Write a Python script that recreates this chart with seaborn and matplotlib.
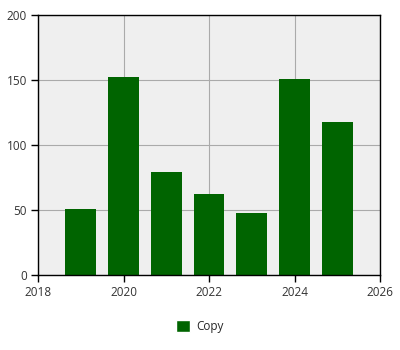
import matplotlib
matplotlib.use("Agg")
import matplotlib.pyplot as plt
import seaborn as sns
import pandas as pd
from matplotlib.patches import Patch

years = [2019, 2020, 2021, 2022, 2023, 2024, 2025]
values = [51, 152, 79, 62, 48, 151, 118]
series_name = "Copy"

sns.set_style("white")
plt.rcParams['font.family'] = ['Open Sans', 'DejaVu Sans']

df = pd.DataFrame({"year": years, "value": values})

fig = plt.figure(figsize=(4, 3.5), dpi=100)
ax = fig.add_axes([0.095, 0.214, 0.855, 0.743])
ax.set_facecolor("#efefef")
sns.barplot(data=df, x="year", y="value", native_scale=True, color="#006400",
            width=0.72, saturation=1, linewidth=0, edgecolor="none", ax=ax, zorder=2)
ax.set_xlim(2018, 2026)
ax.set_ylim(0, 200)
ax.set_xticks([2018, 2020, 2022, 2024, 2026])
ax.set_yticks([0, 50, 100, 150, 200])
ax.grid(True, color="#aaaaaa", linewidth=0.8, zorder=0)
ax.set_axisbelow(True)
for s in ax.spines.values():
    s.set_color("black")
    s.set_linewidth(1)
ax.tick_params(axis="both", length=5, width=1, color="black", labelsize=8.5, labelcolor="#333333", pad=3, direction="out")
ax.tick_params(left=True, bottom=True)
ax.set_xlabel("")
ax.set_ylabel("")
fig.legend(handles=[Patch(facecolor="#006400", label=series_name)], loc="center",
           bbox_to_anchor=(0.5, 0.068), frameon=False, fontsize=8.5,
           handlelength=1.2, handleheight=1.3, handletextpad=0.5)
fig.savefig("out.png", dpi=100)
